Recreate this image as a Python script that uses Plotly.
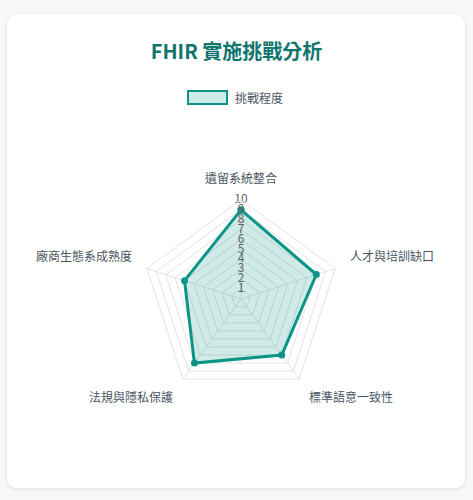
import math
import plotly.graph_objects as go

categories = ['遺留系統整合', '人才與培訓缺口', '標準語意一致性', '法規與隱私保護', '廠商生態系成熟度']
challenge = [9, 8, 7, 8, 6]
ticks = [1, 2, 3, 4, 5, 6, 7, 8, 9, 10]
series_name = '挑戰程度'

W, H = 473, 500
teal = '#0d9488'
font = 'Noto Sans CJK TC, Noto Sans, sans-serif'

# polar geometry in pixels (centre, outer radius)
cx, cy, R = 241, 299, 99
label_gap = 14


def px(x):
    return x / W


def py(y):
    return 1 - y / H


def rounded(x0, y0, x1, y1, r):
    rx, ry = r / W, r / H
    a, b, c, d = px(x0), py(y0), px(x1), py(y1)
    return (f'M{a + rx},{b} L{c - rx},{b} Q{c},{b} {c},{b - ry} '
            f'L{c},{d + ry} Q{c},{d} {c - rx},{d} L{a + rx},{d} '
            f'Q{a},{d} {a},{d + ry} L{a},{b - ry} Q{a},{b} {a + rx},{b} Z')


fig = go.Figure()

# closing the loop
fig.add_trace(go.Scatterpolar(
    r=challenge + challenge[:1],
    theta=categories + categories[:1],
    name=series_name,
    mode='lines+markers',
    fill='toself',
    fillcolor='rgba(13,148,136,0.2)',
    line=dict(color=teal, width=3),
    marker=dict(color=teal, size=7),
    showlegend=False,
    hoverinfo='skip',
))

# tick labels along the top spoke
fig.add_trace(go.Scatterpolar(
    r=ticks,
    theta=[categories[0]] * len(ticks),
    mode='text',
    text=[str(t) for t in ticks],
    textfont=dict(family=font, size=12, color='#666666'),
    showlegend=False,
    hoverinfo='skip',
))

# point labels placed like chart.js does, a little outside the outer ring
annotations = []
n = len(categories)
for i, cat in enumerate(categories):
    a = 2 * math.pi * i / n
    s, c = math.sin(a), math.cos(a)
    x = cx + (R + label_gap) * s
    y = cy - (R + label_gap) * c
    xanchor = 'center' if abs(s) < 0.1 else ('left' if s > 0 else 'right')
    yanchor = 'bottom' if c > 0.1 else ('top' if c < -0.1 else 'middle')
    annotations.append(dict(text=cat, xref='paper', yref='paper', x=px(x), y=py(y),
                            xanchor=xanchor, yanchor=yanchor, showarrow=False,
                            yshift=-2 if yanchor == 'bottom' else 4,
                            font=dict(family=font, size=12, color='#4b5563')))

annotations.append(dict(text=series_name, xref='paper', yref='paper', x=px(233), y=py(98),
                        xanchor='left', yanchor='middle', showarrow=False,
                        font=dict(family=font, size=12, color='#4b5563')))

fig.update_layout(
    width=W, height=H,
    margin=dict(l=0, r=0, t=0, b=0),
    paper_bgcolor='#f7f8fa',
    font=dict(family=font, color='#4b5563', size=12),
    title=dict(text='<b>FHIR 實施挑戰分析</b>', x=0.5, xanchor='center',
               y=py(52), yanchor='middle',
               font=dict(family=font, size=20, color='#0f766e')),
    showlegend=False,
    polar=dict(
        domain=dict(x=[px(cx - R), px(cx + R)], y=[py(cy + R), py(cy - R)]),
        bgcolor='rgba(0,0,0,0)',
        gridshape='linear',
        radialaxis=dict(range=[0, 10], dtick=1, showticklabels=False, ticks='',
                        showline=False, gridcolor='#e3e3e3', gridwidth=1),
        angularaxis=dict(rotation=90, direction='clockwise', showline=True,
                         linecolor='#e3e3e3', gridcolor='#e3e3e3', ticks='',
                         showticklabels=False),
    ),
    shapes=[
        dict(type='path', xref='paper', yref='paper', layer='below',
             path=rounded(5, 13, 467, 491, 14), fillcolor='rgba(0,0,0,0.04)', line=dict(width=0)),
        dict(type='path', xref='paper', yref='paper', layer='below',
             path=rounded(7, 14, 465, 488, 12), fillcolor='white', line=dict(width=0)),
        # legend box
        dict(type='rect', xref='paper', yref='paper',
             x0=px(188), x1=px(227), y0=py(104), y1=py(91),
             fillcolor='rgba(13,148,136,0.2)', line=dict(color=teal, width=2)),
    ],
    annotations=annotations,
)

fig.write_html('out.html', config={'displayModeBar': False},
               post_script="document.body.style.margin='0';"
               "document.body.style.background='#f7f8fa';")
